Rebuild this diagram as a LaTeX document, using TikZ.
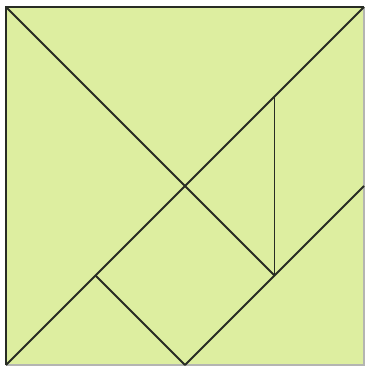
\documentclass[tikz,border=0pt]{standalone}
\definecolor{paper}{RGB}{221,238,160}
\definecolor{ink}{RGB}{40,44,36}
\tikzset{cut/.style={draw=ink, line width=0.6pt}}
\begin{document}
\begin{tikzpicture}
\useasboundingbox (-0.067,-0.022) rectangle (4.022,4.078);
\fill[white] (-0.067,-0.022) rectangle (4.022,4.078);
\coordinate (bl) at (0,0);
\coordinate (br) at (4,0);
\coordinate (tr) at (4,4);
\coordinate (tl) at (0,4);
\coordinate (mid) at (2,2);
\coordinate (p1) at (3,1);
\coordinate (p2) at (3,3);
\coordinate (p3) at (4,2);
\coordinate (p4) at (2,0);
\coordinate (p5) at (1,1);
\fill[paper] (bl) rectangle (tr);
\draw[cut] (bl) -- (tl) -- (tr);
\draw[draw=ink!35, line width=0.6pt] (tr) -- (br) -- (bl);
\draw[cut] (tl) -- (mid);
\draw[cut] (mid) -- (p1);
\draw[cut] (bl) -- (tr);
\draw[cut] (p2) -- (p1);
\draw[cut] (p3) -- (p4);
\draw[cut] (p5) -- (p4);
\end{tikzpicture}
\end{document}
